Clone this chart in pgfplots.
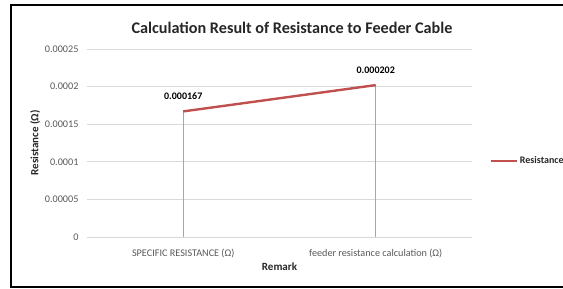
\documentclass[border=0pt]{standalone}
\usepackage{pgfplots}
\pgfplotsset{compat=1.18}
\usepackage{fontspec}
\setmainfont{Carlito}
\definecolor{exred}{HTML}{C0504D}
\definecolor{gridg}{HTML}{D9D9D9}
\definecolor{dropg}{HTML}{A6A6A6}
\definecolor{labg}{HTML}{595959}
\begin{document}
\begin{tikzpicture}
\useasboundingbox (0pt,0pt) rectangle (563pt,289pt);
\draw[line width=2pt] (563pt,284pt) -- (11pt,284pt) -- (11pt,2pt) -- (563pt,2pt);
\node[font=\fontsize{16.2}{18}\selectfont\bfseries, text=black!85] at (292pt,261pt) {Calculation Result of Resistance to Feeder Cable};
\begin{axis}[
  at={(87pt,52pt)}, anchor=south west,
  scale only axis, width=385pt, height=188pt,
  xmin=-0.5, xmax=1.5, ymin=0, ymax=0.00025,
  xtick={0,1}, xticklabels={SPECIFIC RESISTANCE (Ω), feeder resistance calculation (Ω)},
  ytick={0,0.00005,0.0001,0.00015,0.0002,0.00025},
  yticklabels={0,0.00005,0.0001,0.00015,0.0002,0.00025},
  scaled y ticks=false,
  ymajorgrids, grid style={gridg, line width=0.8pt},
  axis x line*=bottom, axis y line*=left,
  x axis line style={gridg, line width=0.8pt, -},
  y axis line style={draw=none, -},
  major tick length=0pt,
  tick label style={font=\fontsize{10.2}{12}\selectfont, text=labg},
  yticklabel style={xshift=-5pt},
  xticklabel style={yshift=-9pt},
  xlabel={Remark}, ylabel={Resistance (Ω)},
  label style={font=\fontsize{11}{13}\selectfont\bfseries, text=black!85},
  xlabel style={yshift=2pt},
  ylabel style={yshift=-2pt},
  legend style={draw=none, at={(1.045,0.404)}, anchor=west, font=\fontsize{10}{12}\selectfont\bfseries, text=black!85, inner sep=0pt, fill=none},
  legend cell align=left,
  legend image code/.code={\draw[exred, line width=2.4pt] (0pt,0pt) -- (26pt,0pt);},
  clip=false,
]
\addplot[ycomb, dropg, line width=0.8pt, forget plot] coordinates {(0,0.000167) (1,0.000202)};
\addplot[exred, line width=2.4pt, mark=none,
  nodes near coords, point meta=explicit symbolic,
  every node near coord/.append style={font=\fontsize{10}{12}\selectfont\bfseries, text=black, yshift=7pt}]
  coordinates {(0,0.000167) [0.000167] (1,0.000202) [0.000202]};
\addlegendentry{Resistance}
\end{axis}
\end{tikzpicture}
\end{document}
